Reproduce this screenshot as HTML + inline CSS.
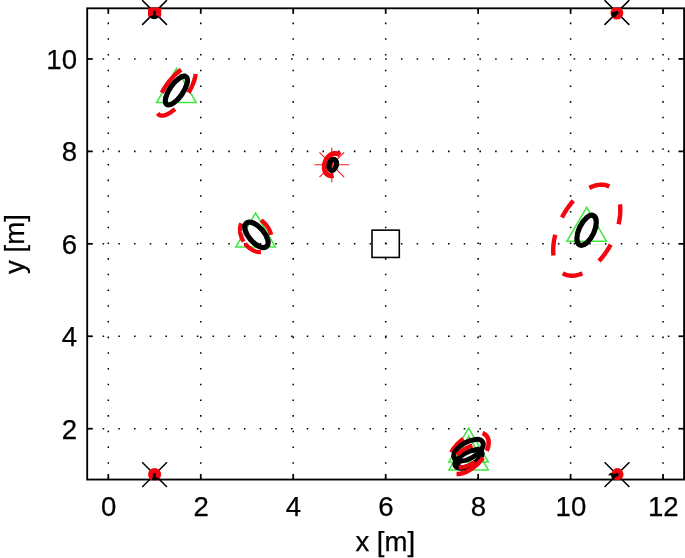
<!DOCTYPE html>
<html><head><meta charset="utf-8"><title>plot</title>
<style>html,body{margin:0;padding:0;background:#fff}svg{display:block}</style></head>
<body>
<svg width="685" height="558" viewBox="0 0 685 558" style="display:block">
<rect width="685" height="558" fill="#fff"/>
<g stroke="#000" stroke-width="1.55" stroke-dasharray="1.55 14.15" stroke-dashoffset="-14.93"><line x1="108.30" y1="478.70" x2="108.30" y2="8.30" /><line x1="200.76" y1="478.70" x2="200.76" y2="8.30" /><line x1="293.22" y1="478.70" x2="293.22" y2="8.30" /><line x1="385.68" y1="478.70" x2="385.68" y2="8.30" /><line x1="478.14" y1="478.70" x2="478.14" y2="8.30" /><line x1="570.60" y1="478.70" x2="570.60" y2="8.30" /><line x1="663.06" y1="478.70" x2="663.06" y2="8.30" /><line x1="87.70" y1="428.71" x2="684.10" y2="428.71" /><line x1="87.70" y1="336.27" x2="684.10" y2="336.27" /><line x1="87.70" y1="243.83" x2="684.10" y2="243.83" /><line x1="87.70" y1="151.39" x2="684.10" y2="151.39" /><line x1="87.70" y1="58.95" x2="684.10" y2="58.95" /></g>
<g stroke="#000" stroke-width="1.75"><line x1="108.30" y1="479.55" x2="108.30" y2="473.95"/><line x1="108.30" y1="8.3" x2="108.30" y2="13.9"/><line x1="200.76" y1="479.55" x2="200.76" y2="473.95"/><line x1="200.76" y1="8.3" x2="200.76" y2="13.9"/><line x1="293.22" y1="479.55" x2="293.22" y2="473.95"/><line x1="293.22" y1="8.3" x2="293.22" y2="13.9"/><line x1="385.68" y1="479.55" x2="385.68" y2="473.95"/><line x1="385.68" y1="8.3" x2="385.68" y2="13.9"/><line x1="478.14" y1="479.55" x2="478.14" y2="473.95"/><line x1="478.14" y1="8.3" x2="478.14" y2="13.9"/><line x1="570.60" y1="479.55" x2="570.60" y2="473.95"/><line x1="570.60" y1="8.3" x2="570.60" y2="13.9"/><line x1="663.06" y1="479.55" x2="663.06" y2="473.95"/><line x1="663.06" y1="8.3" x2="663.06" y2="13.9"/><line x1="87.2" y1="428.71" x2="92.8" y2="428.71"/><line x1="684.1" y1="428.71" x2="678.5" y2="428.71"/><line x1="87.2" y1="336.27" x2="92.8" y2="336.27"/><line x1="684.1" y1="336.27" x2="678.5" y2="336.27"/><line x1="87.2" y1="243.83" x2="92.8" y2="243.83"/><line x1="684.1" y1="243.83" x2="678.5" y2="243.83"/><line x1="87.2" y1="151.39" x2="92.8" y2="151.39"/><line x1="684.1" y1="151.39" x2="678.5" y2="151.39"/><line x1="87.2" y1="58.95" x2="92.8" y2="58.95"/><line x1="684.1" y1="58.95" x2="678.5" y2="58.95"/></g>
<rect x="87.2" y="8.3" width="596.9" height="471.25" fill="none" stroke="#000" stroke-width="1.85"/>
<g font-family="'Liberation Sans', Arial, Helvetica, sans-serif" font-size="27.6" fill="#000" stroke="#000" stroke-width="0.25">
<text x="108.60" y="515.6" text-anchor="middle">0</text>
<text x="201.06" y="515.6" text-anchor="middle">2</text>
<text x="293.52" y="515.6" text-anchor="middle">4</text>
<text x="385.98" y="515.6" text-anchor="middle">6</text>
<text x="478.44" y="515.6" text-anchor="middle">8</text>
<text x="570.90" y="515.6" text-anchor="middle">10</text>
<text x="663.36" y="515.6" text-anchor="middle">12</text>
<text x="77" y="438.66" text-anchor="end">2</text>
<text x="77" y="346.22" text-anchor="end">4</text>
<text x="77" y="253.78" text-anchor="end">6</text>
<text x="77" y="161.34" text-anchor="end">8</text>
<text x="77" y="68.90" text-anchor="end">10</text>
<text x="385.3" y="550.7" text-anchor="middle">x [m]</text>
<text transform="translate(24 244.0) rotate(-90)" text-anchor="middle">y [m]</text>
</g>
<path d="M142.15 0.10 L166.95 24.90 M166.95 0.10 L142.15 24.90" stroke="#000" stroke-width="1.5" fill="none"/>
<rect x="148" y="7.6" width="13.2" height="9.9" rx="2.6" fill="#f2050f"/>
<path d="M149.5 17.3 Q149.8 15.6 153.2 15.2 L153.4 13.6 A1.7 1.7 0 1 1 155.6 13.6 L155.8 15.2 Q158.8 15.6 159.1 17.3 Q154.3 21.2 149.5 17.3Z" fill="#000"/>
<path d="M604.50 0.10 L629.30 24.90 M629.30 0.10 L604.50 24.90" stroke="#000" stroke-width="1.5" fill="none"/>
<g clip-path="url(#axclip)"><circle cx="616.9" cy="13.1" r="6.4" fill="#f2050f"/></g>
<path d="M611.3 12.4 L615.6 11.6 A1.7 1.7 0 1 1 617.6 14.2 L615.4 17 L612.6 17.4 Q611 15 611.3 12.4Z" fill="#000"/>
<path d="M142.20 462.25 L167.00 487.05 M167.00 462.25 L142.20 487.05" stroke="#000" stroke-width="1.5" fill="none"/>
<g clip-path="url(#axclip)"><circle cx="154.6" cy="474.4" r="6.5" fill="#f2050f"/></g>
<path d="M153.2 476 A1.7 1.7 0 1 1 155.6 476 L156.2 477.2 L159.6 478.8 L159.6 480 L152 480 L152.3 478.4 Z" fill="#000"/>
<path d="M604.60 462.25 L629.40 487.05 M629.40 462.25 L604.60 487.05" stroke="#000" stroke-width="1.5" fill="none"/>
<g clip-path="url(#axclip)"><circle cx="617.4" cy="474.2" r="6.1" fill="#f2050f"/></g>
<path d="M608 475.3 L610.7 472.8 L613.5 473.9 L615.8 473.6 A1.6 1.6 0 1 1 617.6 476 L615 478 L612 479.6 L611.5 477 L611.4 475.6 Z" fill="#000"/>
<rect x="372" y="230.15" width="27.3" height="27.3" fill="none" stroke="#000" stroke-width="1.6"/>
<path d="M314.40000000000003 164.8 H349.2 M331.8 147.4 V182.20000000000002 M319.45 152.45000000000002 L344.15000000000003 177.15 M344.15000000000003 152.45000000000002 L319.45 177.15" stroke="#f02020" stroke-width="1.1" fill="none"/>
<path d="M176.4 68.5 L156.6 102.5 L196.20000000000002 102.5 Z" fill="none" stroke="#40e840" stroke-width="1.5" stroke-linejoin="miter"/>
<path d="M255.6 213.0 L235.79999999999998 247.0 L275.4 247.0 Z" fill="none" stroke="#40e840" stroke-width="1.5" stroke-linejoin="miter"/>
<path d="M586.7 207.3 L566.9000000000001 241.3 L606.5 241.3 Z" fill="none" stroke="#40e840" stroke-width="1.5" stroke-linejoin="miter"/>
<path d="M468.6 428.1 L448.8 462.1 L488.40000000000003 462.1 Z" fill="none" stroke="#40e840" stroke-width="1.5" stroke-linejoin="miter"/>
<path d="M468.6 436.1 L448.8 470.1 L488.40000000000003 470.1 Z" fill="none" stroke="#40e840" stroke-width="1.5" stroke-linejoin="miter"/>
<path d="M161.72 92.81 L162.33 91.68 L162.97 90.54 L163.63 89.41 L164.33 88.27 L165.04 87.15 L165.78 86.03 L166.55 84.91 L167.33 83.82 L168.13 82.73 L168.95 81.67 L169.78 80.62 L170.63 79.59 L171.49 78.59 L172.35 77.62 L173.23 76.67 L174.11 75.75 L175.00 74.86 L175.89 74.01 L176.78 73.19 L177.67 72.40 L178.56 71.66 L179.44 70.96 L180.31 70.30 L181.18 69.68 M195.59 73.99 L195.53 74.62 L195.45 75.27 L195.35 75.94 L195.23 76.63 L195.09 77.33 L194.92 78.05 L194.73 78.79 L194.52 79.54 L194.29 80.30 L194.03 81.08 L193.76 81.86 L193.46 82.66 L193.15 83.46 L192.81 84.28 L192.46 85.10 L192.08 85.93 L191.69 86.76 L191.28 87.60 L190.86 88.44 L190.41 89.29 L189.95 90.14 L189.47 90.99 L188.98 91.83 L188.47 92.68 M174.90 109.05 L173.94 109.86 L172.99 110.62 L172.05 111.33 L171.11 112.00 L170.19 112.61 L169.29 113.17 L168.40 113.67 L167.53 114.12 L166.68 114.51 L165.85 114.84 L165.05 115.12 L164.28 115.33 L163.54 115.49 L162.82 115.58 L162.14 115.61 L161.50 115.59 L160.89 115.50 L160.31 115.35 L159.78 115.14 L159.29 114.88 L158.83 114.55 L158.42 114.17 L158.06 113.72 L157.74 113.23" fill="none" stroke="#f2050f" stroke-width="4.4"/>
<ellipse cx="176.4" cy="90.6" rx="16.9" ry="6.6" transform="rotate(-55 176.4 90.6)" fill="none" stroke="#000" stroke-width="5.2"/>
<path d="M243.65 241.51 L243.19 240.76 L242.77 240.00 L242.37 239.23 L242.00 238.45 L241.66 237.66 L241.35 236.86 L241.07 236.06 L240.83 235.26 L240.61 234.45 L240.42 233.64 L240.27 232.84 L240.15 232.04 L240.06 231.25 L240.01 230.46 L239.99 229.68 L240.00 228.91 L240.05 228.16 L240.13 227.41 L240.24 226.69 L240.38 225.98 L240.56 225.28 L240.77 224.61 L241.01 223.96 L241.28 223.33 M260.93 252.16 L260.26 252.18 L259.58 252.15 L258.89 252.10 L258.20 252.01 L257.50 251.88 L256.80 251.72 L256.10 251.53 L255.40 251.30 L254.69 251.04 L253.99 250.75 L253.30 250.42 L252.60 250.07 L251.92 249.68 L251.24 249.27 L250.57 248.83 L249.91 248.35 L249.27 247.85 L248.63 247.33 L248.02 246.78 L247.41 246.21 L246.82 245.61 L246.26 244.99 L245.70 244.35 L245.17 243.69 M261.09 220.33 L261.69 220.76 L262.27 221.20 L262.85 221.67 L263.41 222.15 L263.96 222.66 L264.50 223.19 L265.03 223.73 L265.54 224.29 L266.03 224.87 L266.51 225.47 L266.97 226.07 L267.41 226.70 L267.84 227.33 L268.24 227.98 L268.63 228.63 L268.99 229.30 L269.34 229.98 L269.66 230.66 L269.96 231.35 L270.24 232.04 L270.50 232.74 L270.73 233.44 L270.94 234.14 L271.12 234.85" fill="none" stroke="#f2050f" stroke-width="4.3"/>
<ellipse cx="256.45" cy="234.85" rx="15.5" ry="7.6" transform="rotate(49 256.45 234.85)" fill="none" stroke="#000" stroke-width="5.3"/>
<path d="M333.60 175.39 L332.08 175.69 L330.61 175.69 L329.20 175.38 L327.92 174.77 L326.78 173.88 L325.81 172.74 L325.06 171.37 L324.53 169.82 L324.25 168.12 L324.21 166.32 L324.43 164.48 L324.89 162.63 L325.58 160.84 L326.48 159.15 L327.57 157.61 L328.82 156.26 L330.20 155.14 L331.66 154.27 L333.16 153.69 L334.67 153.40 L336.15 153.42 L337.55 153.75 L338.83 154.37 L339.96 155.27" fill="none" stroke="#f2050f" stroke-width="5.0"/>
<ellipse cx="332.75" cy="164.9" rx="5.6" ry="3.6" transform="rotate(-72 332.75 164.9)" fill="none" stroke="#000" stroke-width="5.2"/>
<path d="M589.35 187.91 L590.27 187.46 L591.19 187.05 L592.11 186.66 L593.02 186.31 L593.93 186.00 L594.83 185.72 L595.73 185.47 L596.62 185.26 L597.50 185.08 L598.38 184.94 L599.24 184.83 L600.10 184.75 L600.94 184.71 L601.78 184.70 L602.60 184.73 L603.41 184.80 L604.21 184.90 L604.99 185.03 L605.77 185.20 L606.52 185.40 L607.26 185.64 L607.99 185.91 L608.70 186.21 L609.39 186.55 M619.93 204.36 L620.02 205.10 L620.10 205.85 L620.17 206.61 L620.22 207.38 L620.26 208.16 L620.29 208.94 L620.30 209.74 L620.30 210.54 L620.29 211.35 L620.27 212.17 L620.23 212.99 L620.18 213.82 L620.11 214.66 L620.04 215.50 L619.95 216.35 L619.85 217.20 L619.73 218.06 L619.61 218.93 L619.47 219.79 L619.31 220.67 L619.15 221.54 L618.97 222.42 L618.78 223.30 L618.58 224.19 M610.71 244.58 L610.29 245.33 L609.87 246.08 L609.44 246.82 L609.01 247.56 L608.57 248.29 L608.12 249.02 L607.66 249.74 L607.20 250.46 L606.74 251.16 L606.26 251.87 L605.78 252.56 L605.30 253.25 L604.81 253.93 L604.31 254.61 L603.81 255.28 L603.30 255.93 L602.79 256.59 L602.27 257.23 L601.75 257.87 L601.23 258.49 L600.70 259.11 L600.16 259.72 L599.62 260.32 L599.08 260.91 M582.41 273.37 L581.49 273.76 L580.57 274.11 L579.67 274.43 L578.76 274.71 L577.86 274.96 L576.97 275.18 L576.09 275.36 L575.22 275.51 L574.35 275.62 L573.49 275.70 L572.65 275.75 L571.81 275.76 L570.99 275.73 L570.17 275.67 L569.37 275.58 L568.59 275.45 L567.81 275.28 L567.06 275.08 L566.31 274.85 L565.59 274.58 L564.87 274.28 L564.18 273.95 L563.50 273.58 L562.84 273.18 M553.49 255.44 L553.41 254.66 L553.34 253.88 L553.28 253.08 L553.24 252.27 L553.21 251.46 L553.20 250.63 L553.20 249.80 L553.21 248.96 L553.24 248.11 L553.28 247.25 L553.34 246.39 L553.41 245.52 L553.49 244.64 L553.59 243.76 L553.70 242.87 L553.83 241.98 L553.96 241.08 L554.12 240.18 L554.28 239.27 L554.46 238.36 L554.65 237.45 L554.86 236.53 L555.08 235.61 L555.31 234.69 M561.99 217.40 L562.39 216.63 L562.79 215.88 L563.21 215.13 L563.63 214.38 L564.06 213.64 L564.49 212.90 L564.93 212.17 L565.38 211.44 L565.84 210.72 L566.30 210.00 L566.76 209.30 L567.24 208.59 L567.72 207.90 L568.20 207.21 L568.69 206.53 L569.19 205.85 L569.69 205.18 L570.20 204.53 L570.71 203.87 L571.23 203.23 L571.75 202.59 L572.27 201.97 L572.80 201.35 L573.34 200.74" fill="none" stroke="#f2050f" stroke-width="4.4"/>
<ellipse cx="586.6" cy="230.3" rx="16.2" ry="7.6" transform="rotate(-65 586.6 230.3)" fill="none" stroke="#000" stroke-width="5.2"/>
<ellipse cx="468.5" cy="458.9" rx="14.8" ry="6.7" transform="rotate(-28 468.5 458.9)" fill="none" stroke="#000" stroke-width="5.3"/>
<path d="M482.50 433.18 L483.23 433.45 L483.92 433.77 L484.56 434.13 L485.17 434.55 L485.72 435.01 L486.24 435.53 L486.70 436.09 L487.12 436.69 L487.49 437.34 L487.81 438.02 L488.07 438.75 L488.29 439.52 L488.45 440.32 L488.55 441.15 L488.61 442.02 L488.61 442.91 L488.56 443.84 L488.45 444.78 L488.29 445.75 L488.08 446.74 L487.82 447.75 L487.51 448.77 L487.14 449.80 L486.73 450.84 M482.90 457.66 L482.04 458.83 L481.14 459.98 L480.19 461.10 L479.20 462.20 L478.18 463.27 L477.12 464.31 L476.03 465.31 L474.91 466.27 L473.77 467.18 L472.60 468.05 L471.43 468.87 L470.24 469.64 L469.04 470.35 L467.84 471.00 L466.64 471.59 L465.45 472.12 L464.26 472.59 L463.09 473.00 L461.93 473.33 L460.79 473.60 L459.68 473.80 L458.59 473.93 L457.54 473.99 L456.52 473.98" fill="none" stroke="#f2050f" stroke-width="4.6"/>
<path d="M451.40 452.54 L451.77 451.91 L452.15 451.28 L452.55 450.66 L452.96 450.04 L453.39 449.42 L453.83 448.80 L454.29 448.19 L454.76 447.59 L455.24 446.99 L455.73 446.40 L456.24 445.81 L456.75 445.23 L457.28 444.66 L457.82 444.09 L458.36 443.54 L458.92 442.99 L459.48 442.46 L460.05 441.93 L460.63 441.42 L461.22 440.91 L461.81 440.42 L462.41 439.94 L463.02 439.48 L463.63 439.02" fill="none" stroke="#f2050f" stroke-width="5.0"/>
<path d="M455.2 460.5 L461.2 461.8 L460.2 465.4 L456.6 467.5 Z M476.2 455.6 L480 454 L480.2 458.5 L476.5 459.6 Z" fill="#000"/>
<path d="M474.95 462.01 L474.27 462.44 L473.59 462.86 L472.89 463.27 L472.19 463.66 L471.48 464.03 L470.77 464.39 L470.05 464.74 L469.33 465.07 L468.61 465.38 L467.89 465.67 L467.18 465.94 L466.46 466.19 L465.75 466.42 L465.05 466.64 L464.36 466.83 L463.67 467.00 L463.00 467.15 L462.33 467.27 L461.68 467.38 L461.04 467.46 L460.42 467.52 L459.82 467.56 L459.23 467.57 L458.67 467.56" fill="none" stroke="#f2050f" stroke-width="4.3"/>
<ellipse cx="468.5" cy="450.2" rx="16.4" ry="8.2" transform="rotate(-30 468.5 450.2)" fill="none" stroke="#000" stroke-width="5.0"/>
<path d="M456.95 455.00 L457.44 454.50 L457.95 454.00 L458.48 453.51 L459.03 453.02 L459.60 452.54 L460.18 452.06 L460.79 451.59 L461.41 451.13 L462.04 450.68 L462.69 450.24 L463.35 449.81 L464.02 449.40 L464.70 448.99 L465.39 448.60 L466.08 448.22 L466.78 447.86 L467.48 447.51 L468.19 447.18 L468.90 446.87 L469.61 446.57 L470.31 446.30 L471.02 446.04 L471.72 445.80 L472.41 445.57" fill="none" stroke="#f2050f" stroke-width="4.3"/>
<defs><clipPath id="axclip"><rect x="86.35000000000001" y="7.450000000000001" width="598.6" height="472.95"/></clipPath></defs>
</svg>
</body></html>
